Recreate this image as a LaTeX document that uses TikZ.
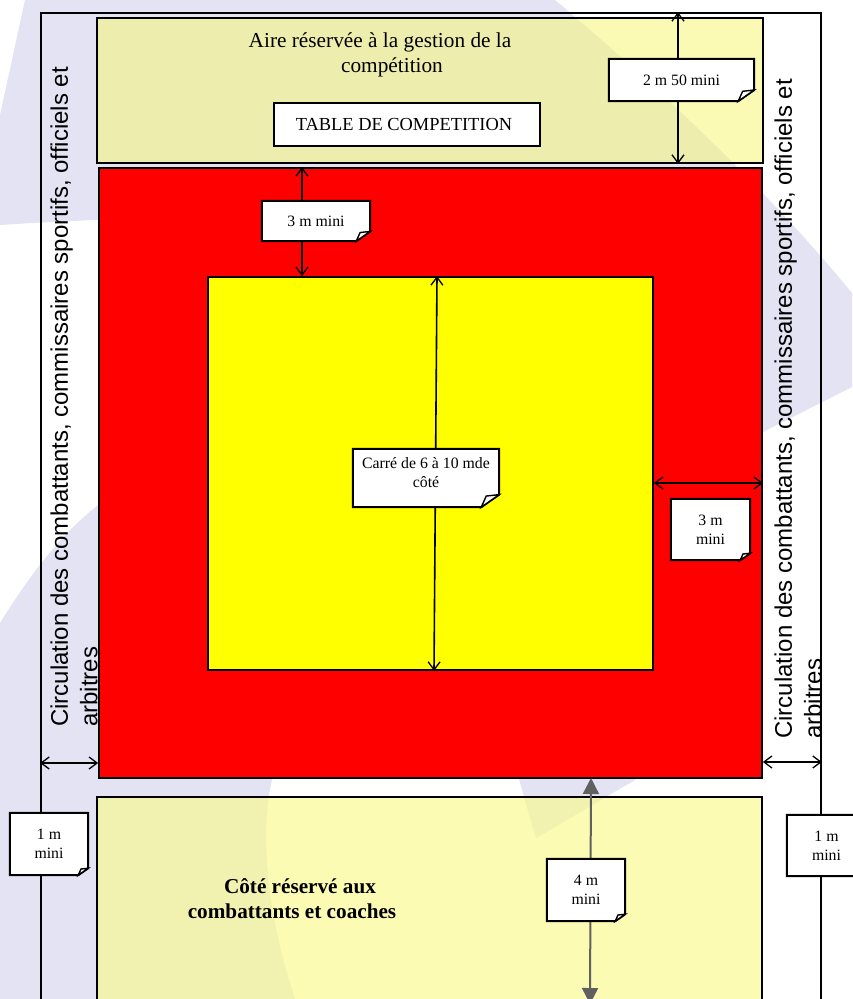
\documentclass[tikz,border=0pt]{standalone}
\usepackage{fontspec}
\setmainfont{Liberation Serif}
\newfontfamily\arialfont{Liberation Sans}
\usetikzlibrary{arrows.meta,calc}
\pgfdeclarelayer{zonelayer}
\pgfdeclarelayer{connlayer}
\pgfdeclarelayer{foldlayer}
\pgfsetlayers{zonelayer,connlayer,foldlayer,main}
\definecolor{lav}{HTML}{E3E3F3}
\definecolor{paleyellow}{RGB}{247,247,107}
\definecolor{paleyellowb}{RGB}{249,249,141}
\definecolor{greyarrow}{HTML}{606060}
\definecolor{pureyellow}{RGB}{255,255,0}
\definecolor{purered}{RGB}{255,0,0}
\tikzset{
  zone/.style={draw=black,line width=1.7pt,inner sep=0pt},
  notebox/.style={inner sep=0pt,align=center,font=\fontsize{15.8}{19}\selectfont},
  noteline/.style={draw=black,line width=2pt,fill=white,line join=miter},
  barbs/.style={line width=1.6pt,{Straight Barb[length=8pt,width=12pt,line width=1.3pt]}-{Straight Barb[length=8pt,width=12pt,line width=1.3pt]}},
  greyarrows/.style={draw=greyarrow,line width=2pt,{Triangle[length=16pt,width=16pt,fill=greyarrow]}-{Triangle[length=16pt,width=16pt,fill=greyarrow]}},
  sidetext/.style={rotate=90,anchor=west,inner sep=0pt,align=left,font=\arialfont\fontsize{24}{29.5}\selectfont}
}
\newcommand{\zonebox}[6]{% name, x1,y1,x2,y2, fill options
  \node[zone,#6,minimum width=#4pt-#2pt,minimum height=#5pt-#3pt] (#1) at ({(#2+#4)/2},{(#3+#5)/2}) {};}
\newcommand{\foldnote}[7]{% name, x1,y1,x2,y2, size of the fold, text
  \node[notebox,minimum width=#4pt-#2pt,minimum height=#5pt-#3pt] (#1) at ({(#2+#4)/2},{(#3+#5)/2}) {#7};
  \begin{pgfonlayer}{foldlayer}
    \draw[noteline] (#1.north west) -- (#1.north east) -- ([yshift=#6*0.7pt]#1.south east) -- ([xshift=-#6*1pt]#1.south east) -- (#1.south west) -- cycle;
    \draw[line width=1.4pt,fill=white] ([xshift=-#6*1pt]#1.south east) -- ([xshift=-#6*0.72pt,yshift=#6*0.62pt]#1.south east) -- ([yshift=#6*0.7pt]#1.south east) -- cycle;
  \end{pgfonlayer}}
\begin{document}
\begin{tikzpicture}[x=1pt,y=-1pt]
\useasboundingbox (0,0) rectangle (852,999);
% watermark
\begin{pgfonlayer}{zonelayer}
\fill[white] (0,0) rectangle (852,999);
\fill[lav] (25,0) -- (555,0) .. controls (650,80) and (763,185) .. (852,293) -- (852,387) -- (763,432) -- (635,780) -- (536,838) -- (520,783) -- (400,230) .. controls (300,215) and (150,215) .. (0,225) -- (0,115) -- cycle;
\fill[lav] (0,623) .. controls (30,575) and (60,535) .. (97,506) -- (200,430) -- (272,700) -- (272,780) .. controls (262,820) and (262,900) .. (295,999) -- (0,999) -- cycle;
% zones
\zonebox{outer}{41}{13}{821}{1040}{fill=none}
\zonebox{aire}{97}{18}{763}{163}{fill=paleyellow,fill opacity=.5}
\zonebox{safety}{99}{168}{762}{778}{fill=purered}
\zonebox{square}{208}{277}{653}{670}{fill=pureyellow}
\zonebox{coaches}{97}{797}{762}{1040}{fill=paleyellowb,fill opacity=.65}
\end{pgfonlayer}
% texts
\node[align=center,inner sep=0pt,font=\fontsize{21.3}{25}\selectfont] (airetext) at (380,54.5) {Aire réservée à la gestion de la\\\hspace*{24pt}compétition};
\node[draw=black,line width=2pt,fill=white,inner sep=0pt,minimum width=266pt,minimum height=43pt,font=\fontsize{18.4}{20}\selectfont] (table) at (407,124.5) {\hspace*{-6pt}TABLE DE COMPETITION};
\node[align=center,inner sep=0pt,font=\bfseries\fontsize{21.2}{25}\selectfont] (coachtext) at (292,899) {\hspace*{16pt}Côté réservé aux\\combattants et coaches};
\node[sidetext] (leftside) at (74,727) {Circulation des combattants, commissaires sportifs, officiels et\\arbitres};
\node[sidetext] (rightside) at (798,739) {Circulation des combattants, commissaires sportifs, officiels et\\arbitres};
% notes
\foldnote{n250}{609}{59}{754}{101}{16}{2 m 50 mini}
\foldnote{nthreetop}{262}{201}{370}{241}{14}{3 m mini}
\foldnote{ncarre}{353}{449}{499}{507}{18}{Carré de 6 à 10 mde\\côté\\[-8pt]\mbox{}}
\foldnote{nthreeright}{671}{499}{750}{560}{10}{3 m\\mini}
\foldnote{nleft}{10}{813}{88}{875}{10}{1 m\\mini}
\foldnote{nright}{787}{815}{866}{876}{10}{1 m\\mini}
\foldnote{nfour}{547}{859}{625}{921}{10}{4 m\\mini}
% connectors
\coordinate (tfour) at (591,778);
\coordinate (bfour) at (590,1004);
\begin{pgfonlayer}{connlayer}
\draw[barbs] (678,0 |- outer.north) -- (678,0 |- aire.south);
\draw[barbs] (302,0 |- safety.north) -- (302,0 |- square.north);
\draw[barbs] (437,0 |- square.north) -- (434,0 |- square.south);
\draw[barbs] (square.east |- 0,483) -- (safety.east |- 0,483);
\draw[barbs] (outer.west |- 0,763) -- (safety.west |- 0,763);
\draw[barbs] (safety.east |- 0,762) -- (outer.east |- 0,762);
\draw[greyarrows] (tfour) -- (bfour);
\end{pgfonlayer}
\end{tikzpicture}
\end{document}
